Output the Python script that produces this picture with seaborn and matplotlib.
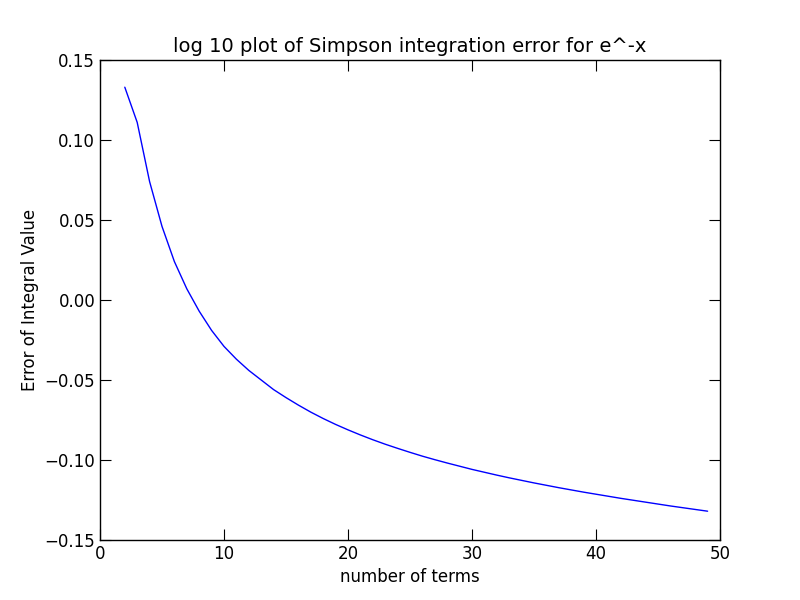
import matplotlib
matplotlib.use("Agg")
import seaborn as sns
from matplotlib import pyplot as plt
import pandas as pd

# number of terms vs error
terms = list(range(2, 50))
errors = [0.133, 0.111, 0.074, 0.046, 0.024, 0.007, -0.007, -0.019, -0.029,
          -0.037, -0.044, -0.050, -0.056, -0.061, -0.0655, -0.0697, -0.0735,
          -0.0770, -0.0802, -0.0832, -0.0860, -0.0886, -0.0910, -0.0933,
          -0.0955, -0.0975, -0.0994, -0.1012, -0.1030, -0.1046, -0.1062,
          -0.1077, -0.1091, -0.1105, -0.1118, -0.1131, -0.1143, -0.1155,
          -0.1166, -0.1177, -0.1188, -0.1198, -0.1208, -0.1218, -0.1228,
          -0.1237, -0.1246, -0.1255]
errors = errors[:14] + [e - 0.0065 * (i + 1) / 34 for i, e in enumerate(errors[14:])]

df = pd.DataFrame({"terms": terms, "error": errors})

sns.set_style("white", {"xtick.direction": "in", "ytick.direction": "in",
                        "text.color": "black", "axes.labelcolor": "black",
                        "xtick.color": "black", "ytick.color": "black"})
plt.rcParams['font.family'] = ['DejaVu Sans']
plt.rcParams['axes.unicode_minus'] = True

fig = plt.figure(figsize=(8, 6), dpi=100)
ax = fig.add_axes([0.125, 0.1, 0.775, 0.8])
sns.lineplot(data=df, x="terms", y="error", color="blue", linewidth=1, ax=ax)
ax.set_xlim(0, 50)
ax.set_ylim(-0.15, 0.15)
ax.set_yticks([-0.15, -0.10, -0.05, 0.00, 0.05, 0.10, 0.15])
ax.set_yticklabels([("%.2f" % v).replace("-", "\u2212") for v in ax.get_yticks()])
ax.tick_params(which="both", direction="in", top=True, right=True,
               bottom=True, left=True, length=8, labelsize=12, colors="black")
for s in ax.spines.values():
    s.set_color("black")
    s.set_linewidth(1)
ax.set_title("log 10 plot of Simpson integration error for e^-x", fontsize=14, color="black")
ax.set_xlabel("number of terms", fontsize=12, color="black")
ax.set_ylabel("Error of Integral Value", fontsize=12, color="black")
fig.savefig("out.png")
